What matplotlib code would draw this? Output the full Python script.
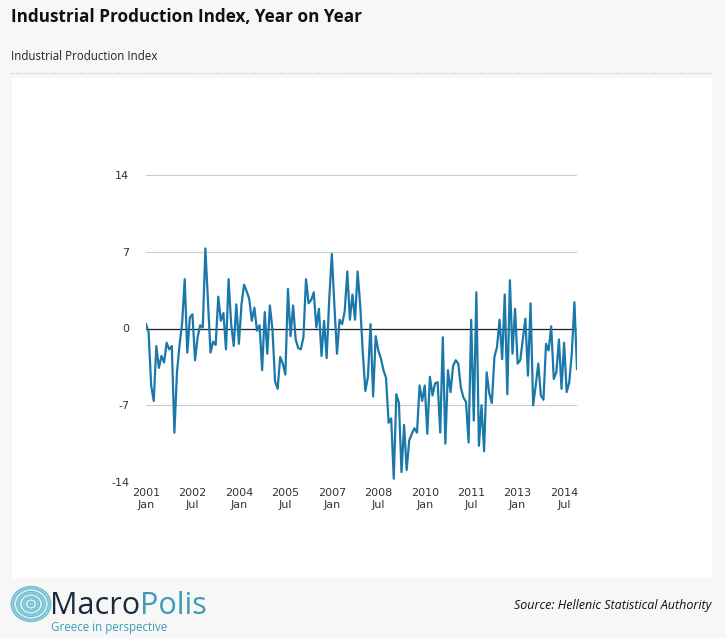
#!/usr/bin/env python3
"""Industrial Production Index, year on year (Greece), MacroPolis style."""

import numpy as np
import matplotlib
matplotlib.use("Agg")
import matplotlib.pyplot as plt
from matplotlib.patches import Circle, Rectangle
from matplotlib.lines import Line2D

TITLE = "Industrial Production Index, Year on Year"
SUBTITLE = "Industrial Production Index"
SOURCE = "Source: Hellenic Statistical Authority"

# monthly y/y change, 2001 Jan .. 2014 Dec
IPI_YOY = [
    0.4, -0.3, -5.2, -6.6, -1.6, -3.6, -2.5, -3.1, -1.3, -1.9,
    -1.6, -9.5, -4.0, -1.5, 0.5, 4.5, -2.2, 1.0, 1.3, -2.9,
    -0.8, 0.3, 0.1, 7.3, 2.5, -2.2, -1.2, -1.5, 2.9, 0.7,
    1.4, -1.9, 4.5, 0.4, -1.6, 2.2, -1.4, 2.2, 4.0, 3.4,
    2.7, 0.7, 1.9, -0.2, 0.3, -3.8, 1.5, -2.3, 2.1, -0.1,
    -4.8, -5.5, -2.6, -3.2, -4.2, 3.6, -0.7, 2.1, -1.0, -1.8,
    -1.9, -0.8, 4.5, 2.3, 2.6, 3.3, 0.1, 1.8, -2.5, 0.7,
    -2.7, 2.7, 6.8, 2.1, -2.3, 0.8, 0.4, 1.6, 5.2, 0.8,
    3.1, 0.8, 5.2, 2.1, -2.2, -5.7, -4.4, 0.4, -6.2, -0.7,
    -2.0, -2.7, -3.8, -4.5, -8.6, -8.2, -13.7, -6.0, -6.8, -13.1,
    -8.8, -12.9, -10.2, -9.6, -9.1, -9.5, -5.2, -6.6, -5.2, -9.6,
    -4.4, -6.1, -5.0, -4.9, -9.5, -0.8, -10.5, -3.8, -5.8, -3.4,
    -2.9, -3.2, -5.4, -6.3, -6.7, -10.4, 0.8, -8.4, 3.3, -10.7,
    -7.0, -11.2, -4.0, -5.9, -6.8, -2.6, -1.7, 0.8, -2.8, 3.1,
    -6.0, 4.4, -2.3, 1.8, -3.2, -2.9, -1.0, 0.9, -4.3, 2.3,
    -7.0, -5.2, -3.2, -6.1, -6.5, -1.4, -2.0, 0.2, -4.6, -4.0,
    -1.0, -5.5, -1.3, -5.8, -4.9, -2.2, 2.4, -3.7,
]

Y_TICKS = [-14, -7, 0, 7, 14]
X_TICK_STEP = 18
X_TICK_LABELS = [
    "2001\nJan", "2002\nJul", "2004\nJan", "2005\nJul", "2007\nJan",
    "2008\nJul", "2010\nJan", "2011\nJul", "2013\nJan", "2014\nJul",
]

W, H = 725, 638
LINE_COLOR = "#1a78aa"
BG_OUTER = "#f7f7f7"


def fx(px):
    return px / W


def fy(py):
    return 1 - py / H


def draw_frame(fig):
    fig.patch.set_facecolor(BG_OUTER)
    # white chart panel, kept behind the axes
    fig.patches.append(Rectangle((fx(12), fy(578)), fx(700), (578 - 78) / H,
                                 transform=fig.transFigure, facecolor="white",
                                 edgecolor="none", zorder=-5))
    fig.text(fx(11), fy(17), TITLE, fontsize=12.3, fontweight="bold",
             family="Open Sans", color="#111111", va="center")
    fig.text(fx(11), fy(56), SUBTITLE, fontsize=8.3, family="Open Sans",
             color="#222222", va="center")
    fig.lines.append(Line2D([fx(10), fx(712)], [fy(73), fy(73)],
                            transform=fig.transFigure, color="#bbbbbb",
                            linewidth=0.8, linestyle=(0, (1, 1.5))))


def draw_footer(fig):
    # round logo: concentric rings
    cx, cy, r = 31, 604, 20
    for k, rr in enumerate(np.linspace(r, 3, 7)):
        fig.patches.append(Circle((fx(cx), fy(cy)), rr / W, transform=fig.transFigure,
                                  facecolor="#8fd0dc" if k % 2 == 0 else "#d8f0f4",
                                  edgecolor="#5fb3c6", linewidth=0.6, zorder=3))
    t = fig.text(fx(50), fy(614), "Macro", fontsize=22, family="Open Sans",
                 color="#1b2a3c", va="baseline")
    fig.canvas.draw()
    bb = t.get_window_extent()
    fig.text(bb.x1 / W, fy(614), "Polis", fontsize=22, family="Open Sans",
             color="#3a9db3", va="baseline")
    fig.text(fx(51), fy(627), "Greece in perspective", fontsize=8.3,
             family="Open Sans", color="#3a9db3", va="center")
    fig.text(fx(711), fy(606), SOURCE, fontsize=9, family="Open Sans",
             style="italic", color="#111111", ha="right", va="center")


def draw_chart(fig):
    ax = fig.add_axes([fx(146), fy(482), fx(577 - 146), (482 - 175) / H])
    ax.set_facecolor("white")
    x = np.arange(len(IPI_YOY))
    ax.plot(x, IPI_YOY, color=LINE_COLOR, linewidth=1.6, zorder=3,
            solid_joinstyle="round")
    ax.axhline(0, color="#222222", linewidth=0.9, zorder=2)
    ax.set_ylim(-14, 14)
    ax.set_xlim(0, len(IPI_YOY) - 1)
    ax.set_yticks(Y_TICKS)
    ax.set_yticklabels([str(v) for v in Y_TICKS])
    ax.set_xticks(x[::X_TICK_STEP][:len(X_TICK_LABELS)])
    ax.set_xticklabels(X_TICK_LABELS, linespacing=1.25)
    ax.grid(axis="y", color="#cccccc", linewidth=0.8, zorder=1)
    for side in ax.spines:
        ax.spines[side].set_visible(False)
    ax.tick_params(axis="both", length=0, labelsize=8, colors="#333333",
                   labelfontfamily="DejaVu Sans")
    ax.tick_params(axis="y", pad=12)
    ax.tick_params(axis="x", pad=4)


def main():
    fig = plt.figure(figsize=(W / 100, H / 100), dpi=100)
    draw_frame(fig)
    draw_chart(fig)
    draw_footer(fig)
    fig.savefig("out.png", dpi=100, facecolor=fig.get_facecolor())


if __name__ == "__main__":
    main()
